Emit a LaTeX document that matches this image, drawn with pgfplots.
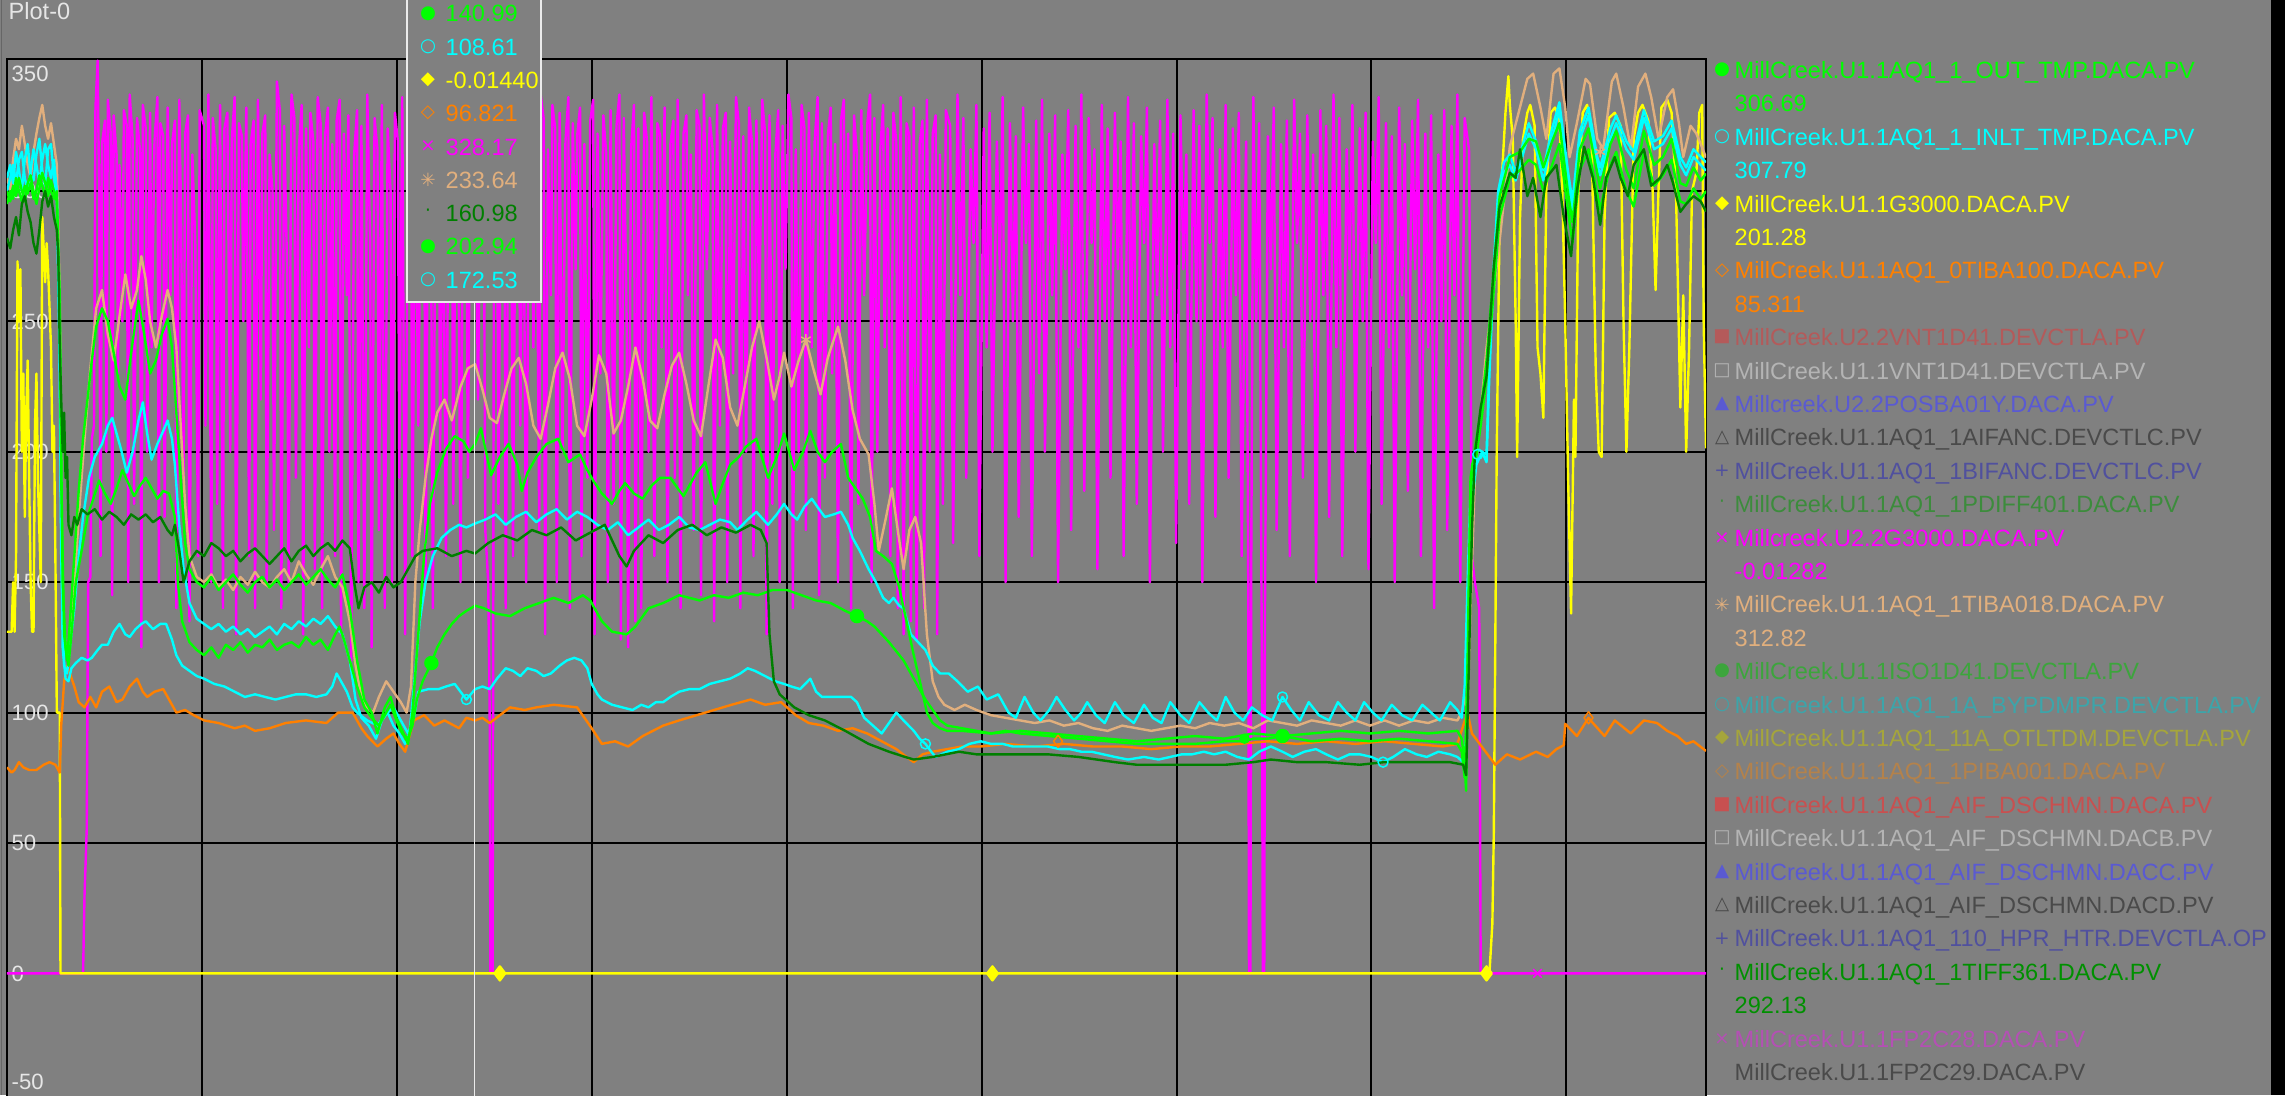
\documentclass[border=0pt]{standalone}
\usepackage{fontspec}
\setmainfont{Liberation Sans}
\newfontfamily\sym{DejaVu Sans}
\usepackage{pgfplots}
\pgfplotsset{compat=1.18}
\definecolor{bg}{HTML}{808080}
\definecolor{cgreen}{HTML}{00FF00}
\definecolor{ccyan}{HTML}{00FFFF}
\definecolor{cyellow}{HTML}{FFFF00}
\definecolor{corange}{HTML}{FF8000}
\definecolor{cmag}{HTML}{FF00FF}
\definecolor{ctan}{HTML}{E1AF7D}
\definecolor{cdgreen}{HTML}{007F00}
\definecolor{lgreen}{HTML}{009000}
\definecolor{dimred}{HTML}{B45A5A}
\definecolor{lgray}{HTML}{B4B4B4}
\definecolor{lblue}{HTML}{5A5AD2}
\definecolor{dgray}{HTML}{4A4A4A}
\definecolor{bgray}{HTML}{50509E}
\definecolor{dgreen1}{HTML}{3C8C3C}
\definecolor{dgreen2}{HTML}{3CA53C}
\definecolor{teal2}{HTML}{3CA5AA}
\definecolor{olive2}{HTML}{A5A53C}
\definecolor{dorange}{HTML}{B4824B}
\definecolor{red2}{HTML}{C85050}
\definecolor{dmag}{HTML}{B450B4}
\definecolor{tick}{HTML}{E6E6E6}
\newcommand{\lrow}[4]{%
  \node[anchor=center,text=#2,inner sep=0pt] at (1722,{70+33.4*#1}) {\sym\fontsize{5.2}{6}\selectfont #3};
  \node[anchor=base west,text=#2,inner sep=0pt] at (1734,{70+33.4*#1+8.5}) {#4};}
\newcommand{\lval}[3]{%
  \node[anchor=base west,text=#2,inner sep=0pt] at (1734,{70+33.4*#1+8.5}) {#3};}
\newcommand{\trow}[4]{%
  \node[anchor=center,text=#2,inner sep=0pt] at (428,{13.3+33.3*#1}) {\sym\fontsize{5.2}{6}\selectfont #3};
  \node[anchor=base west,text=#2,inner sep=0pt] at (445,{13.3+33.3*#1+8.5}) {#4};}
\begin{document}
\fontsize{6.7pt}{8pt}\selectfont
\begin{tikzpicture}
\begin{scope}[x=0.1mm,y=-0.1mm]
\fill[bg] (0,0) rectangle (2285,1095);
\draw[color=black!60, line width=0.12mm] (1.5,0) -- (1.5,1095);
\end{scope}
\begin{axis}[
  at={(0.7mm,-5.9mm)}, anchor=north west,
  scale only axis, width=169.9mm, height=104.48mm,
  xmin=4.8, xmax=1170.6, ymin=-50, ymax=350.6,
  axis background/.style={fill=bg},
  axis line style={black, line width=0.25mm},
  xtick={138.55,272.3,406.05,539.8,673.55,807.3,941.05,1074.8},
  ytick={0,50,100,150,200,250,300},
  xticklabels={}, yticklabels={},
  major tick length=0pt,
  grid=major,
  major grid style={black, line width=0.2mm},
  every axis plot/.append style={line width=0.24mm, line join=round},
]
\node[anchor=west,text=tick,inner sep=0pt,font=\fontsize{6.3pt}{7pt}\selectfont] at (axis cs:7.5,345) {350};
\node[anchor=west,text=tick,inner sep=0pt,font=\fontsize{6.3pt}{7pt}\selectfont] at (axis cs:7.5,300) {300};
\node[anchor=west,text=tick,inner sep=0pt,font=\fontsize{6.3pt}{7pt}\selectfont] at (axis cs:7.5,250) {250};
\node[anchor=west,text=tick,inner sep=0pt,font=\fontsize{6.3pt}{7pt}\selectfont] at (axis cs:7.5,200) {200};
\node[anchor=west,text=tick,inner sep=0pt,font=\fontsize{6.3pt}{7pt}\selectfont] at (axis cs:7.5,150) {150};
\node[anchor=west,text=tick,inner sep=0pt,font=\fontsize{6.3pt}{7pt}\selectfont] at (axis cs:7.5,100) {100};
\node[anchor=west,text=tick,inner sep=0pt,font=\fontsize{6.3pt}{7pt}\selectfont] at (axis cs:7.5,50) {50};
\node[anchor=west,text=tick,inner sep=0pt,font=\fontsize{6.3pt}{7pt}\selectfont] at (axis cs:7.5,0) {0};
\node[anchor=west,text=tick,inner sep=0pt,font=\fontsize{6.3pt}{7pt}\selectfont] at (axis cs:7.5,-41.5) {-50};
% magenta Millcreek.U2.2G3000
\addplot[cmag] coordinates {(4.8,0) (57,0) (58,30) (59.5,55) (60.5,150) (62,152) (63,205) (64.5,210) (65.5,332) (67,350) (68,300) (69,160) (70,318) (72,327) (73,200) (74,335) (76,322) (77,145) (78,329) (80,314) (81,230) (82,310) (84,250) (85,331) (87,325) (88,150) (89,337) (91,320) (92,180) (94,328) (96,316) (97,125) (98,333) (100,324) (101,200) (103,330) (104,240) (106,319) (108,336) (109,150) (110,326) (112,321) (113,175) (115,332) (117,260) (118,318) (120,327) (121,140) (123,335) (124,300) (126,190) (127,322) (129,329) (130,135) (132,314) (134,280) (136,160) (137,331) (140,325) (141,210) (143,337) (145,150) (146,328) (148,316) (149,180) (151,333) (153,140) (154,324) (156,330) (158,200) (159,319) (161,336) (162,130) (164,326) (166,321) (167,250) (169,332) (171,160) (172,318) (174,327) (175,140) (177,335) (179,220) (180,322) (182,329) (183,150) (185,314) (187,300) (188,170) (190,342) (192,331) (193,140) (195,325) (197,270) (198,150) (200,337) (202,328) (203,190) (205,316) (207,333) (208,130) (210,324) (212,240) (213,330) (215,319) (216,155) (218,336) (220,326) (221,140) (223,321) (225,332) (226,200) (228,318) (230,160) (231,327) (233,335) (234,130) (236,322) (238,260) (239,329) (241,120) (243,314) (245,331) (246,150) (248,325) (250,140) (252,337) (254,280) (255,125) (257,328) (259,316) (260,170) (262,333) (264,140) (266,324) (268,300) (269,150) (271,330) (273,319) (274,190) (276,336) (278,130) (280,326) (282,321) (283,160) (285,332) (287,210) (289,318) (291,327) (292,150) (294,335) (296,260) (297,140) (299,322) (301,329) (302,200) (304,314) (306,160) (308,331) (310,325) (311,180) (313,337) (315,250) (316,150) (318,328) (320,316) (321,190) (323,333) (326,328) (328,220) (330,324) (332,300) (333,170) (335,150) (336,100) (336.5,0) (338,0) (338.5,150) (339,326) (341,321) (342,180) (344,332) (346,318) (347,140) (349,327) (351,280) (352,160) (354,335) (356,322) (357,210) (359,329) (361,150) (363,314) (365,331) (366,240) (368,325) (370,170) (371,337) (373,328) (374,130) (376,316) (378,260) (379,333) (381,324) (382,150) (384,330) (386,200) (388,319) (390,336) (391,140) (393,326) (395,270) (396,321) (398,332) (399,160) (401,318) (403,190) (405,327) (407,335) (408,130) (410,322) (412,230) (414,329) (416,314) (417,150) (419,331) (421,180) (423,325) (425,337) (426,128) (428,328) (430,250) (431,125) (433,316) (435,333) (436,135) (438,324) (440,140) (442,330) (444,319) (445,200) (447,336) (449,160) (451,326) (453,321) (454,240) (456,332) (458,150) (460,318) (462,327) (463,190) (465,335) (467,140) (469,322) (471,329) (472,260) (474,314) (476,170) (478,331) (480,325) (481,145) (483,337) (485,270) (487,328) (489,316) (490,135) (492,333) (494,210) (496,324) (498,330) (499,150) (501,319) (503,230) (505,336) (507,326) (508,140) (510,321) (512,200) (514,332) (516,318) (517,160) (519,327) (521,250) (523,335) (525,322) (526,130) (528,329) (530,180) (532,314) (534,331) (535,150) (537,325) (539,270) (541,337) (543,328) (544,140) (546,316) (548,200) (550,333) (552,324) (553,170) (555,330) (557,240) (559,319) (561,336) (562,145) (564,326) (566,190) (568,321) (570,332) (571,230) (573,318) (575,150) (577,327) (579,335) (580,250) (582,322) (584,140) (586,329) (588,314) (589,180) (591,331) (593,260) (595,325) (597,337) (598,150) (600,328) (602,200) (604,316) (606,333) (607,240) (609,324) (611,160) (613,330) (615,319) (616,140) (618,336) (620,130) (622,326) (624,321) (625,135) (627,332) (629,128) (631,318) (633,327) (634,140) (636,335) (638,200) (640,322) (642,329) (643,130) (645,314) (647,180) (649,331) (652,325) (654,165) (657,337) (659,260) (661,328) (663,190) (666,316) (668,280) (670,333) (672,160) (675,324) (677,240) (679,330) (681,200) (684,319) (686,270) (688,336) (690,150) (693,326) (695,250) (697,321) (699,175) (702,332) (704,280) (706,318) (708,160) (711,327) (713,230) (715,335) (717,200) (720,322) (722,260) (724,329) (726,150) (729,314) (731,270) (733,331) (735,170) (738,325) (740,240) (742,337) (744,185) (747,328) (749,280) (751,316) (753,155) (756,333) (758,250) (760,324) (762,190) (765,330) (767,270) (769,319) (771,160) (774,336) (776,240) (778,326) (780,180) (783,321) (785,280) (787,332) (789,150) (792,318) (794,260) (796,327) (798,200) (801,335) (803,240) (805,322) (807,165) (810,329) (812,270) (814,314) (816,180) (819,331) (821,250) (823,325) (825,150) (828,337) (830,280) (832,328) (834,175) (837,316) (839,240) (841,333) (843,190) (846,324) (848,260) (850,330) (852,160) (855,319) (856.5,150) (857,0) (858,0) (858.5,150) (860,336) (862,250) (864,326) (866,100) (866.5,0) (867.5,0) (868,140) (870,321) (872,270) (874,332) (876,170) (879,318) (881,240) (883,327) (885,160) (888,335) (890,280) (892,322) (894,190) (897,329) (899,250) (901,314) (903,150) (906,331) (908,260) (910,325) (912,175) (915,337) (917,240) (919,328) (921,160) (924,316) (926,270) (928,333) (930,200) (933,324) (935,250) (937,330) (939,155) (942,319) (944,280) (946,336) (948,180) (951,326) (953,240) (955,321) (957,150) (960,332) (962,260) (964,318) (966,185) (969,327) (971,270) (973,335) (975,160) (978,322) (980,240) (982,329) (984,140) (987,314) (989,250) (991,331) (993,170) (996,325) (998,260) (1000,337) (1002,150) (1005,328) (1008,316) (1010,160) (1012,150) (1015,140) (1016,0) (1170.6,0)};
% yellow MillCreek.U1.1G3000
\addplot[cyellow] coordinates {(4.8,131) (8,131) (9,150) (10,131) (11,160) (12,273) (13,250) (14,270) (15,200) (16,230) (17,175) (18,215) (19,235) (20,190) (21,150) (22,131) (23,131) (24,210) (25,230) (26,190) (28,150) (29,290) (31,265) (32,280) (33,270) (34,255) (35,240) (36,200) (37,210) (38,160) (39,100) (41,100) (41.5,0) (1022,0) (1024,19) (1025,54) (1026,125) (1027,200) (1029,290) (1031,310) (1033,330) (1035,344) (1036,333) (1038,320) (1040,250) (1041,198) (1043,290) (1045,320) (1048,330) (1050,333) (1053,325) (1055,240) (1057,230) (1059,213) (1061,300) (1064,330) (1067,332) (1070,328) (1072,300) (1074,250) (1076,190) (1078,138) (1080,220) (1081,198) (1083,300) (1086,330) (1089,333) (1092,325) (1095,230) (1097,200) (1099,198) (1101,290) (1104,328) (1108,330) (1112,325) (1114,250) (1116,200) (1118,240) (1121,320) (1124,330) (1127,333) (1131,327) (1134,300) (1136,262) (1138,300) (1140,332) (1144,335) (1147,330) (1150,300) (1153,217) (1155,260) (1157,200) (1159,240) (1161,300) (1164,307) (1166,330) (1168,333) (1169,250) (1170.6,201.3)};
% orange MillCreek.U1.1AQ1_0TIBA100
\addplot[corange] coordinates {(4.8,79) (8,77) (10,78) (13,81) (16,79) (20,78) (25,78) (30,80) (34,81) (38,80) (41,77) (42,95) (44,112) (46,118) (48,115) (51,110) (54,104) (58,102) (62,106) (66,102) (70,108) (75,110) (80,104) (84,105) (89,110) (94,113) (98,108) (101,106) (106,108) (112,109) (117,104) (121,100) (127,101) (133,99) (140,97) (150,96) (161,94) (168,95) (175,93) (185,94) (196,96) (210,97) (224,96) (232,100) (242,100) (248,94) (252,91) (259,87) (265,90) (270,92) (274,88) (278,85) (284,97) (291,99) (298,95) (305,97) (315,94) (320,98) (326,97) (331,98) (336,96) (343,99) (350,102) (360,101) (368,102) (380,103) (396,102) (406,94) (413,88) (422,89) (431,87) (441,91) (448,93) (455,95) (466,97) (478,99) (490,101) (502,103) (515,105) (525,103) (536,104) (546,99) (555,96) (565,95) (575,93) (585,94) (595,92) (605,89) (615,86) (622,83) (627,81) (633,84) (640,85) (650,86) (660,87) (673,87) (690,88) (710,87) (730,88) (750,87) (770,87) (790,86) (810,87) (830,87) (850,88) (870,89) (890,88) (910,89) (930,88) (950,89) (970,88) (990,87) (1000,88) (1004,95) (1007,100) (1010,92) (1018,86) (1026,80) (1034,84) (1043,82) (1054,85) (1062,83) (1068,86) (1073,87.5) (1074,95.7) (1082,91) (1090,98) (1093,96) (1101,91) (1108,97) (1119,92) (1128,97) (1137,96) (1144,93) (1151,91) (1157,88) (1162,89) (1170.6,85.3)};
% tan MillCreek.U1.1AQ1_1TIBA018
\addplot[ctan] coordinates {(4.8,305) (7,300) (9,312) (11,320) (13,316) (15,325) (17,318) (19,310) (21,305) (23,315) (25,322) (27,328) (29,333) (31,325) (33,320) (35,326) (37,318) (39,310) (41,260) (42,190) (43,140) (45,125) (47,122) (50,140) (54,175) (58,205) (62,232) (66,255) (70,262) (74,245) (78,235) (82,252) (86,268) (90,255) (94,262) (97,275) (100,266) (103,250) (107,240) (111,252) (115,262) (118,255) (121,240) (124,210) (127,180) (130,160) (135,152) (140,150) (145,153) (150,148) (155,151) (160,147) (165,152) (170,149) (175,154) (180,150) (185,148) (190,152) (195,155) (200,150) (205,158) (210,153) (215,149) (220,155) (225,160) (230,152) (235,148) (240,135) (244,118) (248,106) (252,102) (256,100) (260,106) (265,112) (270,108) (275,104) (279,100) (282,110) (285,150) (288,170) (292,190) (296,205) (300,215) (305,220) (310,212) (316,225) (321,232) (326,233.6) (331,224) (336,213) (341,211) (346,222) (351,232) (356,236) (361,226) (366,210) (371,205) (376,218) (381,232) (386,238) (391,228) (396,210) (401,206) (406,220) (411,237) (416,230) (421,207) (426,212) (431,225) (436,240) (441,228) (446,212) (451,209) (456,222) (461,233) (466,238) (471,226) (476,212) (481,206) (486,225) (491,243) (496,236) (501,217) (506,210) (511,225) (516,240) (521,250) (526,236) (531,220) (535,229) (538,238) (543,225) (548,235) (553,243) (558,232) (563,222) (568,236) (575,248) (580,235) (585,216) (590,205) (596,199) (600,180) (603,162) (608,175) (612,186) (616,170) (620,155) (624,170) (628,175) (632,165) (636,130) (640,112) (644,106) (648,103) (655,101) (662,103) (670,101) (680,99) (690,98) (700,97) (710,96) (720,97) (730,95) (740,96) (750,94) (760,93) (770,95) (780,94) (790,93) (800,94) (810,95) (820,94) (830,96) (840,95) (850,96) (860,94) (870,97) (880,96) (890,95) (900,97) (910,96) (920,95) (930,97) (940,95) (950,97) (960,95) (970,97) (980,96) (990,98) (1000,97) (1003,100) (1005,106) (1007,100) (1009,140) (1012,190) (1016,215) (1020,240) (1025,262) (1029,281) (1036,317) (1042,330) (1048,343) (1052,345) (1057,332) (1061,320) (1066,345) (1070,347) (1074,332) (1077,313) (1082,326) (1088,343) (1091,341) (1096,320) (1100,316) (1106,342) (1109,345) (1114,332) (1119,316) (1124,340) (1129,345) (1133,336) (1138,320) (1144,336) (1148,339) (1152,326) (1155,313) (1160,325) (1164,322) (1167,318) (1170.6,312.8)};
% cyan upper
\addplot[ccyan] coordinates {(4.8,305) (7,310) (9,303) (11,315) (13,308) (15,300) (17,312) (19,318) (21,306) (23,304) (25,314) (27,320) (29,308) (31,302) (33,316) (35,318) (37,305) (39,298) (41,230) (42,160) (44,118) (46,115) (48,125) (51,140) (54,160) (57,175) (61,190) (65,198) (70,203) (74,210) (77,213) (80,207) (83,201) (87,192) (91,200) (95,212) (98,219) (101,207) (104,197) (108,203) (112,208) (115,212) (118,205) (120,195) (123,172) (126,155) (130,142) (135,136) (140,134) (145,132) (150,134) (155,131) (160,133) (165,130) (170,132) (175,129) (180,131) (185,133) (190,130) (195,134) (200,132) (205,135) (210,133) (215,136) (220,134) (225,137) (230,133) (235,130) (240,120) (244,105) (248,98) (253,95) (258,90) (262,97) (266,100) (270,95) (274,92) (278,88) (281,92) (284,110) (288,135) (292,150) (297,160) (303,167) (309,170) (315,172) (320,171) (326,172.5) (333,174) (340,176) (347,172) (354,175) (361,177) (368,173) (375,176) (382,178) (389,174) (396,177) (403,175) (410,172) (417,170) (424,173) (431,168) (438,171) (445,174) (452,170) (459,172) (466,175) (473,171) (480,170) (487,172) (494,174) (501,173) (506,170) (513,174) (519,177) (527,172) (533,176) (538,180) (543,176) (547,174) (552,179) (557,182) (562,178) (566,175) (572,176) (577,177) (582,172) (585,167) (590,162) (596,155) (601,150) (606,144) (610,142) (613,144) (617,141) (620,140) (625,130) (630,127) (635,124) (640,118) (645,115) (651,115) (657,112) (664,108) (671,110) (677,105) (685,107) (692,100) (697,98) (703,106) (709,100) (714,97) (720,101) (725,106) (731,101) (737,97) (742,100) (746,104) (752,99) (758,96) (765,104) (771,99) (778,96) (785,103) (791,98) (797,96) (803,104) (810,99) (816,96) (823,104) (829,100) (835,97) (841,106) (847,100) (853,97) (859,102) (866,99) (873,97) (880,106) (886,101) (892,97) (898,104) (905,99) (912,97) (918,104) (924,100) (930,97) (936,104) (942,100) (948,97) (955,103) (962,99) (969,97) (976,103) (982,100) (988,97) (995,104) (1000,101) (1003,98) (1005,110) (1007,150) (1009,185) (1011,190) (1014,201) (1020,199) (1022,234) (1025,272) (1028,300) (1032,311) (1036,314) (1040,307) (1043,314) (1049,326) (1054,319) (1059,308) (1065,324) (1070,334) (1076,307) (1079,296) (1084,323) (1090,332) (1096,313) (1098,309) (1105,324) (1109,329) (1116,319) (1121,315) (1128,331) (1135,319) (1141,321) (1147,327) (1153,313) (1157,309) (1162,316) (1167,313) (1170.6,311)};
% cyan lower INLT_TMP
\addplot[ccyan] coordinates {(4.8,300) (7,305) (9,310) (11,303) (13,312) (15,315) (17,305) (19,300) (21,308) (23,316) (25,310) (27,303) (29,312) (31,318) (33,310) (35,305) (37,312) (39,300) (41,240) (42,170) (43,125) (45,113) (47,112) (49,117) (52,119) (56,121) (60,120) (63,121) (67,124) (70,126) (74,126) (78,131) (82,134) (86,130) (89,129) (93,132) (97,134) (100,135) (105,132) (110,134) (114,134) (118,128) (121,122) (125,118) (130,116) (135,114) (140,113) (147,111) (154,110) (161,108) (168,106) (175,107) (182,106) (189,105) (196,106) (203,107) (210,107) (217,106) (224,107) (228,110) (231,115) (234,112) (238,108) (242,102) (245,100) (252,97) (259,95) (264,99) (270,102) (275,97) (280,92) (284,98) (287,108) (294,109) (301,109) (306,110) (312,111) (316,108) (320,105) (326,109) (331,110) (336,109) (341,113) (347,117) (352,116) (357,114) (362,117) (368,116) (373,114) (378,115) (384,118) (389,120) (394,121) (399,120) (403,117) (406,111) (410,107) (413,105) (420,103) (427,102) (434,101) (440,103) (445,102) (450,104) (455,104) (460,106) (466,108) (473,109) (480,109) (487,111) (494,112) (501,113) (508,115) (513,117) (518,116) (525,114) (532,112) (538,111) (543,110) (549,109) (556,113) (560,108) (564,106) (572,106) (580,106) (584,106) (588,104) (593,98) (599,95) (605,92) (610,96) (615,100) (620,97) (627,93) (631,90) (635,88) (639,85) (642,83) (650,85) (658,86) (665,88) (673,89) (680,88) (688,88) (695,87) (703,87) (711,87) (719,87) (727,86) (734,86) (742,85) (749,85) (757,84) (765,83) (774,82) (785,83) (795,82) (803,83) (811,84) (818,84) (826,85) (833,84) (841,85) (849,83) (857,82) (864,85) (872,87) (880,85) (887,83) (895,85) (903,86) (910,84) (918,82) (926,84) (933,84) (941,83) (949,81) (956,83) (964,86) (972,84) (979,83) (987,85) (995,84) (1000,83) (1004,81) (1006,90) (1008,140) (1010,180) (1013,195) (1017,200) (1020,196) (1022,230) (1025,269) (1028,297) (1032,307) (1036,310) (1040,304) (1043,310) (1049,322) (1054,316) (1059,304) (1065,320) (1070,331) (1076,304) (1079,292) (1084,320) (1090,329) (1096,310) (1098,306) (1105,320) (1109,326) (1116,316) (1121,312) (1128,328) (1135,316) (1141,318) (1147,324) (1153,310) (1157,306) (1162,313) (1167,310) (1170.6,307.8)};
% green upper
\addplot[cgreen] coordinates {(4.8,295) (7,300) (9,297) (11,305) (13,300) (15,296) (17,302) (19,299) (21,303) (23,297) (25,300) (27,306) (29,302) (31,298) (33,305) (35,300) (37,297) (39,300) (41,255) (42,190) (44,130) (46,120) (48,135) (51,160) (54,185) (57,205) (60,220) (63,235) (66,248) (70,255) (74,250) (78,238) (82,225) (86,220) (90,238) (95,258) (99,245) (103,230) (107,235) (111,245) (115,251) (118,240) (121,215) (124,190) (127,165) (130,155) (135,150) (140,148) (145,152) (150,147) (155,150) (160,153) (165,149) (170,146) (175,150) (180,152) (185,148) (190,151) (195,147) (200,150) (205,153) (210,149) (215,152) (220,155) (225,151) (230,148) (235,153) (240,140) (245,120) (250,105) (255,100) (259,92) (264,102) (268,106) (272,98) (276,93) (280,88) (283,100) (287,130) (291,160) (295,180) (300,192) (306,201) (312,206) (318,204) (322,200) (326,203) (330,209) (337,191) (343,198) (349,203) (355,195) (358,185) (362,192) (368,198) (375,203) (383,205) (390,196) (398,199) (403,193) (407,189) (413,184) (420,180) (425,185) (429,188) (435,184) (441,182) (447,187) (453,190) (460,190) (465,186) (469,183) (474,188) (478,192) (484,196) (491,180) (496,188) (501,195) (507,198) (512,202) (519,205) (527,190) (533,198) (538,207) (545,193) (551,200) (556,208) (561,200) (566,196) (571,200) (577,203) (582,190) (587,186) (592,182) (597,175) (601,162) (606,160) (612,157) (617,148) (622,135) (627,122) (632,110) (636,100) (640,96) (645,94) (650,93) (660,93) (680,92) (700,93) (720,92) (740,91) (760,90) (780,89) (800,90) (820,91) (840,90) (860,92) (880,91) (900,92) (920,93) (940,92) (960,93) (980,92) (1000,93) (1003,90) (1005,80) (1006,70) (1008,150) (1010,195) (1013,198) (1016,210) (1020,228) (1025,262) (1029,290) (1036,305) (1043,308) (1049,312) (1054,310) (1059,300) (1065,310) (1070,318) (1076,292) (1079,280) (1084,308) (1090,316) (1098,293) (1105,310) (1109,315) (1116,300) (1121,294) (1128,315) (1135,302) (1141,306) (1147,312) (1153,296) (1157,295) (1162,301) (1167,297) (1170.6,300)};
% green lower OUT_TMP
\addplot[cgreen] coordinates {(4.8,300) (7,296) (9,302) (11,298) (13,305) (15,300) (17,296) (19,303) (21,306) (23,300) (25,295) (27,301) (29,307) (31,303) (33,298) (35,304) (37,300) (39,296) (41,260) (42,200) (43,150) (45,125) (47,118) (49,130) (52,150) (56,162) (60,175) (64,182) (68,189) (72,184) (76,180) (80,186) (84,193) (88,188) (92,183) (96,187) (100,190) (104,186) (108,182) (112,185) (116,184) (120,175) (122,150) (125,135) (130,127) (135,124) (140,122) (145,125) (150,121) (155,126) (160,124) (165,127) (170,123) (175,126) (180,125) (185,128) (190,124) (195,126) (200,127) (205,125) (210,129) (215,126) (220,128) (225,124) (230,130) (233,133) (236,128) (240,120) (245,110) (250,102) (255,98) (260,95) (265,100) (268,103) (272,97) (276,92) (280,90) (283,95) (286,105) (290,112) (296,119) (300,125) (305,130) (310,134) (315,137) (320,139) (326,141) (332,140) (340,138) (350,137) (360,140) (370,142) (380,144) (390,142) (400,145) (405,143) (413,135) (420,131) (430,130) (436,133) (445,140) (455,142) (466,145) (480,143) (490,145) (500,144) (510,146) (520,145) (530,147) (540,147) (550,145) (560,143) (570,142) (580,139) (588,137) (595,135) (600,133) (610,127) (620,120) (628,112) (635,105) (640,101) (645,97) (650,95) (660,94) (670,93) (680,92) (690,93) (700,92) (720,91) (740,90) (760,89) (780,88) (800,88) (820,88) (840,89) (854,89) (860,90) (870,90) (880,91) (890,90) (900,89) (920,90) (940,89) (960,90) (980,89) (1000,88) (1003,85) (1005,75) (1007,120) (1009,190) (1013,205) (1016,215) (1020,235) (1025,270) (1029,298) (1036,313) (1043,315) (1049,320) (1054,319) (1059,309) (1065,319) (1070,326) (1076,299) (1079,288) (1084,316) (1090,324) (1098,301) (1105,318) (1109,323) (1116,308) (1121,301) (1128,323) (1135,310) (1141,313) (1147,320) (1153,303) (1157,302) (1162,309) (1167,304) (1170.6,306.7)};
% dark green MillCreek.U1.1AQ1_1TIFF361
\addplot[cdgreen] coordinates {(4.8,282) (7,278) (9,285) (11,290) (13,283) (15,295) (17,298) (19,292) (21,288) (23,280) (25,276) (27,285) (29,296) (31,300) (33,294) (35,298) (37,290) (39,285) (40,275) (41,240) (42,220) (43,200) (44,215) (45,190) (46,198) (47,172) (49,168) (51,175) (53,172) (56,178) (60,176) (65,178) (70,174) (75,177) (80,175) (85,172) (90,176) (95,174) (100,176) (105,173) (110,175) (115,170) (118,168) (120,172) (123,162) (126,150) (130,158) (135,162) (140,160) (145,165) (150,163) (155,160) (160,162) (165,158) (170,161) (175,163) (180,160) (185,157) (190,160) (195,163) (200,158) (205,162) (210,164) (215,160) (220,163) (225,165) (230,162) (235,166) (240,163) (243,150) (246,140) (250,148) (255,150) (260,146) (265,152) (270,148) (275,150) (280,155) (285,160) (290,162) (300,163) (310,160) (320,162) (326,161) (335,165) (345,168) (355,166) (365,170) (375,168) (385,171) (395,166) (405,169) (415,172) (425,160) (430,156) (435,162) (445,168) (455,165) (465,170) (475,172) (485,168) (495,171) (505,169) (515,172) (522,170) (526,165) (528,130) (531,112) (535,107) (545,102) (555,99) (566,97) (580,93) (596,88) (610,85) (621,83) (627,82) (640,83) (658,85) (670,84) (690,84) (719,84) (740,83) (765,81) (780,80) (800,80) (820,80) (841,80) (860,81) (872,82) (890,81) (910,81) (933,80) (950,81) (970,81) (995,81) (1004,80) (1006,76) (1008,120) (1010,170) (1012,199) (1016,217) (1020,229) (1025,271) (1029,294) (1036,307) (1040,305) (1043,316) (1048,298) (1052,305) (1057,290) (1061,305) (1068,310) (1073,290) (1076,281) (1078,275) (1082,300) (1087,317) (1093,305) (1098,287) (1102,305) (1108,313) (1112,305) (1117,298) (1121,310) (1128,316) (1133,302) (1139,305) (1144,310) (1148,303) (1153,292) (1157,295) (1162,298) (1167,296) (1170.6,292.1)};
% markers
\addplot[only marks, mark=*, mark size=0.6mm, color=cgreen] coordinates {(296,119) (588,137) (880,91)};
\addplot[only marks, mark=*, mark size=0.4mm, color=cgreen] coordinates {(854,90)};
\addplot[only marks, mark=o, mark size=0.5mm, color=ccyan, mark options={line width=0.15mm}] coordinates {(320,105) (635,88) (949,81) (880,106) (1014,199)};
\addplot[only marks, mark=asterisk, mark size=0.55mm, color=ctan, mark options={line width=0.15mm}] coordinates {(553,243) (1098,315)};
\addplot[only marks, mark=diamond, mark size=0.6mm, color=corange, mark options={line width=0.15mm}] coordinates {(726,89) (1090,98)};
\addplot[only marks, mark=diamond*, mark size=0.7mm, color=cyellow] coordinates {(343,0) (681,0) (1020,0)};
\addplot[only marks, mark=x, mark size=0.6mm, color=cmag, mark options={line width=0.15mm}] coordinates {(1055,0)};
\end{axis}
\begin{scope}[x=0.1mm,y=-0.1mm]
\clip (0,0) rectangle (2285,1095);
% cursor and tooltip
\draw[color=white!92!black, line width=0.15mm] (474.3,301.7) -- (474.3,1100);
\filldraw[fill=bg, draw=white!92!black, line width=0.2mm] (406.7,-10) rectangle (540.7,301.7);
\trow{0}{cgreen}{●}{140.99}
\trow{1}{ccyan}{○}{108.61}
\trow{2}{cyellow}{◆}{-0.01440}
\trow{3}{corange}{◇}{96.821}
\trow{4}{cmag}{×}{328.17}
\trow{5}{ctan}{✳}{233.64}
\trow{6}{cdgreen}{·}{160.98}
\trow{7}{cgreen}{●}{202.94}
\trow{8}{ccyan}{○}{172.53}
% title
\node[anchor=base west,text=tick,inner sep=0pt] at (8,19) {Plot-0};
% legend
\lrow{0}{cgreen}{●}{MillCreek.U1.1AQ1\_1\_OUT\_TMP.DACA.PV}
\lval{1}{cgreen}{306.69}
\lrow{2}{ccyan}{○}{MillCreek.U1.1AQ1\_1\_INLT\_TMP.DACA.PV}
\lval{3}{ccyan}{307.79}
\lrow{4}{cyellow}{◆}{MillCreek.U1.1G3000.DACA.PV}
\lval{5}{cyellow}{201.28}
\lrow{6}{corange}{◇}{MillCreek.U1.1AQ1\_0TIBA100.DACA.PV}
\lval{7}{corange}{85.311}
\lrow{8}{dimred}{■}{MillCreek.U2.2VNT1D41.DEVCTLA.PV}
\lrow{9}{lgray}{□}{MillCreek.U1.1VNT1D41.DEVCTLA.PV}
\lrow{10}{lblue}{▲}{Millcreek.U2.2POSBA01Y.DACA.PV}
\lrow{11}{dgray}{△}{MillCreek.U1.1AQ1\_1AIFANC.DEVCTLC.PV}
\lrow{12}{bgray}{+}{MillCreek.U1.1AQ1\_1BIFANC.DEVCTLC.PV}
\lrow{13}{dgreen1}{·}{MillCreek.U1.1AQ1\_1PDIFF401.DACA.PV}
\lrow{14}{cmag}{×}{Millcreek.U2.2G3000.DACA.PV}
\lval{15}{cmag}{-0.01282}
\lrow{16}{ctan}{✳}{MillCreek.U1.1AQ1\_1TIBA018.DACA.PV}
\lval{17}{ctan}{312.82}
\lrow{18}{dgreen2}{●}{MillCreek.U1.1ISO1D41.DEVCTLA.PV}
\lrow{19}{teal2}{○}{MillCreek.U1.1AQ1\_1A\_BYPDMPR.DEVCTLA.PV}
\lrow{20}{olive2}{◆}{MillCreek.U1.1AQ1\_11A\_OTLTDM.DEVCTLA.PV}
\lrow{21}{dorange}{◇}{MillCreek.U1.1AQ1\_1PIBA001.DACA.PV}
\lrow{22}{red2}{■}{MillCreek.U1.1AQ1\_AIF\_DSCHMN.DACA.PV}
\lrow{23}{lgray}{□}{MillCreek.U1.1AQ1\_AIF\_DSCHMN.DACB.PV}
\lrow{24}{lblue}{▲}{MillCreek.U1.1AQ1\_AIF\_DSCHMN.DACC.PV}
\lrow{25}{dgray}{△}{MillCreek.U1.1AQ1\_AIF\_DSCHMN.DACD.PV}
\lrow{26}{bgray}{+}{MillCreek.U1.1AQ1\_110\_HPR\_HTR.DEVCTLA.OP}
\lrow{27}{lgreen}{·}{MillCreek.U1.1AQ1\_1TIFF361.DACA.PV}
\lval{28}{lgreen}{292.13}
\lrow{29}{dmag}{×}{MillCreek.U1.1FP2C28.DACA.PV}
\lval{30}{dgray}{MillCreek.U1.1FP2C29.DACA.PV}
% right black strip
\fill[black] (2271,0) rectangle (2285,1095);
\end{scope}
\begin{scope}[x=0.1mm,y=-0.1mm]
\pgfresetboundingbox
\useasboundingbox (0,0) rectangle (2285,1095);
\end{scope}
\end{tikzpicture}
\end{document}
